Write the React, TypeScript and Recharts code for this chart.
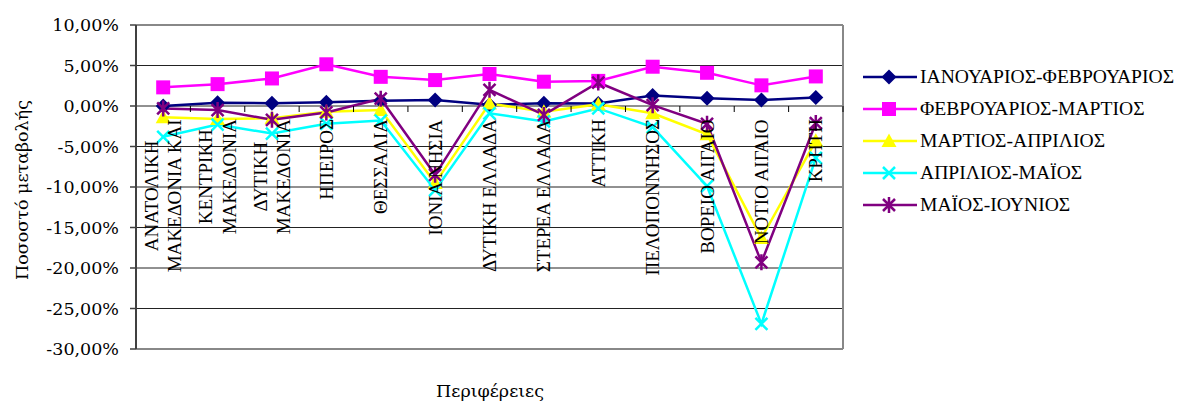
import React from 'react';
import { LineChart, Line, XAxis, YAxis, CartesianGrid, ReferenceLine, Legend } from 'recharts';

const categories: string[] = [
  'ΑΝΑΤΟΛΙΚΗ\nΜΑΚΕΔΟΝΙΑ ΚΑΙ',
  'ΚΕΝΤΡΙΚΗ\nΜΑΚΕΔΟΝΙΑ',
  'ΔΥΤΙΚΗ\nΜΑΚΕΔΟΝΙΑ',
  'ΗΠΕΙΡΟΣ',
  'ΘΕΣΣΑΛΙΑ',
  'ΙΟΝΙΑ ΝΗΣΙΑ',
  'ΔΥΤΙΚΗ ΕΛΛΑΔΑ',
  'ΣΤΕΡΕΑ ΕΛΛΑΔΑ',
  'ΑΤΤΙΚΗ',
  'ΠΕΛΟΠΟΝΝΗΣΟΣ',
  'ΒΟΡΕΙΟ ΑΙΓΑΙΟ',
  'ΝΟΤΙΟ ΑΙΓΑΙΟ',
  'ΚΡΗΤΗ',
];

const seriesNames: string[] = [
  'ΙΑΝΟΥΑΡΙΟΣ-ΦΕΒΡΟΥΑΡΙΟΣ',
  'ΦΕΒΡΟΥΑΡΙΟΣ-ΜΑΡΤΙΟΣ',
  'ΜΑΡΤΙΟΣ-ΑΠΡΙΛΙΟΣ',
  'ΑΠΡΙΛΙΟΣ-ΜΑΪΟΣ',
  'ΜΑΪΟΣ-ΙΟΥΝΙΟΣ',
];

const janFeb: number[] = [0.0, 0.4, 0.35, 0.45, 0.65, 0.75, 0.15, 0.35, 0.3, 1.3, 0.95, 0.75, 1.05];
const febMar: number[] = [2.3, 2.7, 3.4, 5.15, 3.6, 3.2, 3.95, 3.0, 3.1, 4.85, 4.1, 2.55, 3.65];
const marApr: number[] = [-1.4, -1.6, -1.5, -0.7, -0.5, -9.5, 0.3, -0.7, 0.2, -0.9, -3.5, -16.3, -4.3];
const aprMay: number[] = [-3.8, -2.3, -3.4, -2.2, -1.8, -10.4, -0.9, -1.9, -0.3, -2.6, -9.9, -26.9, -6.4];
const mayJun: number[] = [-0.3, -0.5, -1.7, -0.8, 0.9, -8.5, 2.0, -1.1, 2.9, 0.1, -2.2, -19.3, -2.1];

const yTicks: number[] = [10, 5, 0, -5, -10, -15, -20, -25, -30];

const seriesValues = [janFeb, febMar, marApr, aprMay, mayJun];
const keys = ['s1', 's2', 's3', 's4', 's5'];
const colors = ['#000080', '#FF00FF', '#FFFF00', '#00FFFF', '#800080'];
const markers = ['diamond', 'square', 'triangle', 'x', 'star'];

const data = categories.map((name, i) => {
  const row: any = { name };
  keys.forEach((k, j) => { row[k] = seriesValues[j][i]; });
  return row;
});

const CHART_W = 1175;
const CHART_H = 395;
const M_TOP = 17;
const Y_AXIS_W = 128;
const PLOT_W = 707;
const PLOT_H = 324;
const XAXIS_H = 30;
const M_RIGHT = CHART_W - Y_AXIS_W - PLOT_W;
const M_BOTTOM = CHART_H - M_TOP - PLOT_H - XAXIS_H;
const Y_MIN = -30;
const Y_MAX = 10;
const ZERO_Y = M_TOP + (PLOT_H * Y_MAX) / (Y_MAX - Y_MIN);
const BAND = PLOT_W / categories.length;
const LABEL_FONT = "'Liberation Serif', 'Times New Roman', serif";
const LABEL_SIZE = 19;
const LEGEND_SIZE = 19.6;
const LINE_H = 23.5;
const LABEL_GAP = 13;

let ctx: CanvasRenderingContext2D | null = null;
function measure(t: string): number {
  if (!ctx) {
    const c = document.createElement('canvas');
    ctx = c.getContext('2d');
  }
  if (!ctx) return t.length * LABEL_SIZE * 0.65;
  ctx.font = `${LABEL_SIZE}px 'Liberation Serif'`;
  return ctx.measureText(t).width;
}

function Marker({ kind, cx, cy, color }: { kind: string; cx: number; cy: number; color: string }) {
  if (cx == null || cy == null) return null;
  switch (kind) {
    case 'diamond':
      return <polygon points={`${cx},${cy - 7.5} ${cx + 7.5},${cy} ${cx},${cy + 7.5} ${cx - 7.5},${cy}`} fill={color} />;
    case 'square':
      return <rect x={cx - 7} y={cy - 7} width={14} height={14} fill={color} />;
    case 'triangle':
      return <polygon points={`${cx},${cy - 7.5} ${cx + 7.5},${cy + 6} ${cx - 7.5},${cy + 6}`} fill={color} />;
    case 'x':
      return <path d={`M${cx - 6},${cy - 6}L${cx + 6},${cy + 6}M${cx + 6},${cy - 6}L${cx - 6},${cy + 6}`} stroke={color} strokeWidth={2.5} fill="none" />;
    case 'star':
      return <path d={`M${cx - 6},${cy - 6}L${cx + 6},${cy + 6}M${cx + 6},${cy - 6}L${cx - 6},${cy + 6}M${cx},${cy - 8}L${cx},${cy + 8}`} stroke={color} strokeWidth={2.5} fill="none" />;
    default:
      return null;
  }
}

const XTick = (props: any) => {
  const { x, payload } = props;
  const lines = String(payload.value).split('\n');
  const maxLen = Math.max(...lines.map(measure));
  const cy = ZERO_Y + LABEL_GAP + maxLen / 2;
  const n = lines.length;
  const tx = x + BAND / 2;
  return (
    <g>
      {lines.map((ln, i) => {
        const lx = x + (i - (n - 1) / 2) * LINE_H;
        return (
          <text
            key={i}
            x={lx}
            y={cy}
            transform={`rotate(-90 ${lx} ${cy})`}
            textAnchor="middle"
            dominantBaseline="central"
            fontFamily={LABEL_FONT}
            fontSize={LABEL_SIZE}
            fill="#000"
          >
            {ln}
          </text>
        );
      })}
      <line x1={tx} x2={tx} y1={ZERO_Y} y2={ZERO_Y + 6} stroke="#000" strokeWidth={1} />
    </g>
  );
};

const fmt = (v: number) => `${v.toFixed(2).replace('.', ',')}%`;

const LegendContent = () => (
  <div>
    {seriesNames.map((nm, i) => (
      <div key={nm} style={{ height: 32, display: 'flex', alignItems: 'center' }}>
        <svg width={57} height={20} style={{ display: 'block' }}>
          <line x1={0} x2={54} y1={10} y2={10} stroke={colors[i]} strokeWidth={2.5} />
          <Marker kind={markers[i]} cx={26} cy={10} color={colors[i]} />
        </svg>
        <span style={{ fontFamily: LABEL_FONT, fontSize: LEGEND_SIZE, color: '#000', whiteSpace: 'nowrap', lineHeight: '20px' }}>{nm}</span>
      </div>
    ))}
  </div>
);

export default function App() {
  return (
    <div style={{ position: 'relative', width: CHART_W, height: CHART_H, background: '#fff' }}>
      <LineChart
        width={CHART_W}
        height={CHART_H}
        data={data}
        margin={{ top: M_TOP, right: M_RIGHT, left: 0, bottom: M_BOTTOM }}
      >
        <CartesianGrid vertical={false} stroke="#222" strokeWidth={1} />
        <CartesianGrid horizontal={false} verticalPoints={[Y_AXIS_W + PLOT_W]} stroke="#888" strokeWidth={2} />
        <ReferenceLine y={Y_MAX} stroke="#888" strokeWidth={2} />
        <ReferenceLine y={Y_MIN} stroke="#888" strokeWidth={2} />
        <YAxis
          type="number"
          domain={[Y_MIN, Y_MAX]}
          ticks={yTicks}
          interval={0}
          width={Y_AXIS_W}
          tickFormatter={fmt}
          axisLine={{ stroke: '#404040', strokeWidth: 2 }}
          tickLine={{ stroke: '#404040', strokeWidth: 1.5 }}
          tickSize={6}
          tickMargin={11}
          tick={{ fontFamily: "'DejaVu Serif', serif", fontSize: 17.5, fill: '#000' }}
        />
        {keys.map((k, i) => (
          <Line
            key={k}
            dataKey={k}
            name={seriesNames[i]}
            stroke={colors[i]}
            strokeWidth={2.5}
            isAnimationActive={false}
            dot={(p: any) => <Marker key={`${k}-${p.index}`} kind={markers[i]} cx={p.cx} cy={p.cy} color={colors[i]} />}
            activeDot={false}
          />
        ))}
        <XAxis
          dataKey="name"
          type="category"
          interval={0}
          height={XAXIS_H}
          padding={{ left: BAND / 2, right: BAND / 2 }}
          axisLine={false}
          tickLine={false}
          tick={<XTick />}
        />
        <Legend
          layout="horizontal"
          verticalAlign="middle"
          align="center"
          content={<LegendContent />}
          wrapperStyle={{ position: 'absolute', left: 855, top: 53, width: 320, height: 170 }}
        />
      </LineChart>
      <div
        style={{
          position: 'absolute',
          left: 14,
          top: 182,
          transform: 'translate(-50%, -50%) rotate(-90deg)',
          fontFamily: "'DejaVu Serif', serif",
          fontSize: 17.5,
          whiteSpace: 'nowrap',
          color: '#000',
        }}
      >
        Ποσοστό μεταβολής
      </div>
      <div
        style={{
          position: 'absolute',
          left: 482,
          top: 383,
          transform: 'translate(-50%, -50%)',
          fontFamily: "'DejaVu Serif', serif",
          fontSize: 17.5,
          whiteSpace: 'nowrap',
          color: '#000',
        }}
      >
        Περιφέρειες
      </div>
    </div>
  );
}
